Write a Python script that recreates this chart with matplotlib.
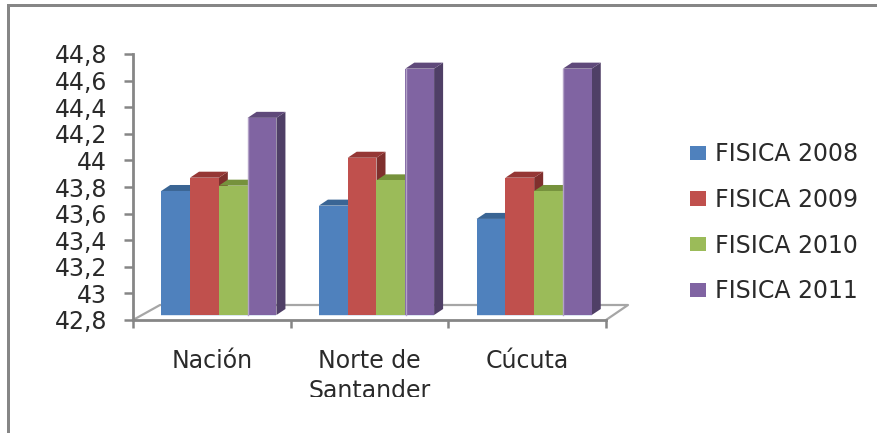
import matplotlib
matplotlib.use("Agg")
import matplotlib.pyplot as plt
from matplotlib.patches import Polygon, Rectangle, Patch
from matplotlib.transforms import Bbox
import numpy as np

categories = ["Nación", "Norte de\nSantander", "Cúcuta"]
series_names = ["FISICA 2008", "FISICA 2009", "FISICA 2010", "FISICA 2011"]
fisica_2008 = [43.77, 43.66, 43.56]
fisica_2009 = [43.87, 44.02, 43.87]
fisica_2010 = [43.81, 43.85, 43.77]
fisica_2011 = [44.32, 44.69, 44.69]
y_ticks = [42.8, 43, 43.2, 43.4, 43.6, 43.8, 44, 44.2, 44.4, 44.6, 44.8]
y_labels = ["42,8", "43", "43,2", "43,4", "43,6", "43,8", "44", "44,2", "44,4", "44,6", "44,8"]

series = [fisica_2008, fisica_2009, fisica_2010, fisica_2011]
front = ["#4F81BD", "#C0504D", "#9BBB59", "#8064A2"]
top = ["#3A6594", "#953735", "#76923C", "#5F497A"]
side = ["#345A86", "#7F2F2D", "#687F33", "#4F3F66"]
GRAY = "#868686"
TXT = "#2A2A2A"
W, H = 878, 433
FS = 17

fig = plt.figure(figsize=(W / 100, H / 100), dpi=100, facecolor="white")
L, R, T, B = 133, 606, 54, 320
ax = fig.add_axes([L / W, 1 - B / H, (R - L) / W, (B - T) / H])
ax.set_xlim(0, 3)
ax.set_ylim(42.8, 44.8)
ax.patch.set_alpha(0)

px = 3 / (R - L)          # data units per pixel, x
py = 2 / (B - T)          # data units per pixel, y
bar_w = 28.8 * px
depth_x, depth_y = 9 * px, 6 * py
base = 42.8 + 5 * py
group_shift = 7 * px

# floor of the 3-D box
t = np.linspace(0, 1, 20)
fl_x = [0] + list(27 * px * t ** 0.7) + [(628 - L) * px, (R - L) * px]
fl_y = [42.8] + list(42.8 + 15 * py * t ** 0.7) + [42.8 + 15 * py, 42.8]
ax.plot(fl_x, fl_y, color="#A6A6A6", lw=1.6, zorder=1, clip_on=False)

z = 2
for c in range(len(categories)):
    for s, vals in enumerate(series):
        v = vals[c]
        x0 = c + 0.5 + group_shift + (s - 2) * bar_w
        x1 = x0 + bar_w
        ax.add_patch(Rectangle((x0, base - 1 * py), bar_w, 1 * py, fc="#DCE6F2", ec="none", zorder=z))
        ax.add_patch(Polygon([(x1, base), (x1, v), (x1 + depth_x, v + depth_y), (x1 + depth_x, base + depth_y)],
                             fc=side[s], ec="none", zorder=z))
        ax.add_patch(Polygon([(x0, v), (x1, v), (x1 + depth_x, v + depth_y), (x0 + depth_x, v + depth_y)],
                             fc=top[s], ec="none", zorder=z))
        ax.bar(x0, v - base, bar_w, bottom=base, align="edge", color=front[s], zorder=z)
        if s == 3:
            ax.plot([x0 + 0.5 * px] * 2, [base, v], color="#B3A2C7", lw=1.0, zorder=z)
        z += 1

for sp in ("top", "right"):
    ax.spines[sp].set_visible(False)
for sp in ("left", "bottom"):
    ax.spines[sp].set_color(GRAY)
    ax.spines[sp].set_linewidth(2.0)
    ax.spines[sp].set_zorder(1.5)

ax.set_yticks(y_ticks)
ax.set_yticklabels(y_labels, fontsize=FS, color=TXT)
ax.tick_params(axis="y", length=6.5, width=1.8, color=GRAY, pad=12)
ax.set_xticks([0, 1, 2, 3])
ax.set_xticklabels([])
ax.tick_params(axis="x", which="major", length=5.8, width=1.8, color=GRAY)
ax.set_xticks([0.5, 1.5, 2.5], minor=True)
ax.set_xticklabels(categories, minor=True, fontsize=FS, color=TXT, linespacing=1.3)
ax.tick_params(axis="x", which="minor", length=0, pad=21)
clip = Bbox([[0, H - 397], [W, H]])
for lab in ax.get_xticklabels(minor=True):
    lab.set_clip_box(clip)
    lab.set_clip_on(True)

handles = [Patch(fc=c, ec="none") for c in front]
leg = fig.legend(handles, series_names, loc="upper left",
                 bbox_to_anchor=(683 / W, 1 - 135 / H), frameon=False,
                 fontsize=FS, labelspacing=0.92, handlelength=0.68, handleheight=0.56,
                 handletextpad=0.36, borderpad=0.3, borderaxespad=0, labelcolor=TXT)

# outer frame of the screenshot
fig.add_artist(Rectangle((7 / W, 0), 3 / W, 1 - 4 / H, transform=fig.transFigure, fc=GRAY, ec="none"))
fig.add_artist(Rectangle((7 / W, 1 - 7 / H), 1 - 7 / W, 3 / H, transform=fig.transFigure, fc=GRAY, ec="none"))

fig.savefig("out.png", dpi=100)
